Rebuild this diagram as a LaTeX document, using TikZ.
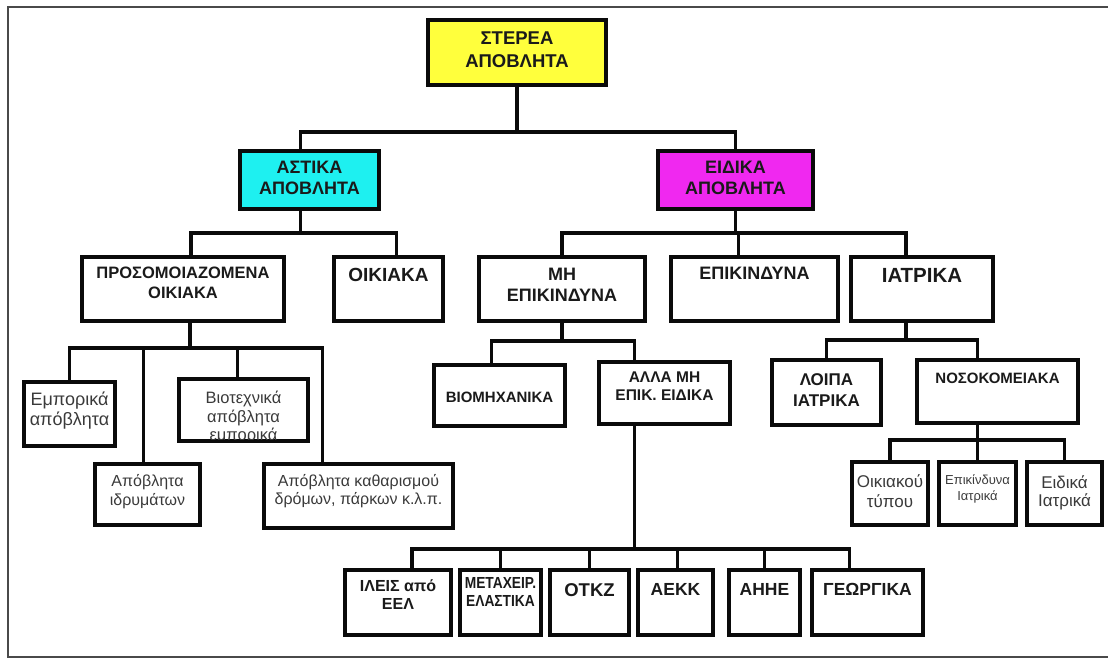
\documentclass[tikz,border=0pt]{standalone}
\usepackage{fontspec}
\setmainfont{Liberation Sans}
\newfontfamily\narrowsans{Liberation Sans}[FakeStretch=0.86]
\usetikzlibrary{positioning}

\definecolor{rootyellow}{HTML}{FFFF3C}
\definecolor{astcyan}{HTML}{1EF0F0}
\definecolor{eidmagenta}{HTML}{F028F0}
\definecolor{boxblack}{HTML}{0A0A0A}
\definecolor{txtblack}{HTML}{1A1A1A}
\definecolor{txtgray}{HTML}{3A3A3A}
\definecolor{framegray}{HTML}{4A4A4A}

\begin{document}
\begin{tikzpicture}[x=1pt, y=-1pt,
  box/.style 2 args={draw=boxblack, line width=4pt, outer sep=0pt, inner sep=0pt,
    minimum width=#1, minimum height=#2},
  conn/.style={draw=boxblack, line width=3.5pt},
  frame/.style={draw=framegray, line width=2pt},
  txt/.style={inner sep=0pt, align=center},
  caps/.style 2 args={txt, text=txtblack, font=\fontsize{#1}{#2}\selectfont\bfseries},
  plain/.style 2 args={txt, text=txtgray, font=\fontsize{#1}{#2}\selectfont}]

  % Page size and the frame round the chart (its right side is cut off)
  \useasboundingbox (0,0) rectangle (1108,659);
  \draw[frame] (1108,7) -- (8,7) -- (8,657) -- (1108,657);

  % Top box and the two main groups
  \node[box={178}{65}, fill=rootyellow] (root) at (517,52.5) {};
  \node[caps={18.5}{23}, below=12pt of root.north] (root-t) {ΣΤΕΡΕΑ\\ΑΠΟΒΛΗΤΑ};
  \node[box={139}{58}, fill=astcyan] (astika) at (309.5,180) {};
  \node[caps={18}{21}, below=10pt of astika.north] (astika-t) {ΑΣΤΙΚΑ\\ΑΠΟΒΛΗΤΑ};
  \node[box={155}{58}, fill=eidmagenta] (eidika) at (735.5,180) {};
  \node[caps={18}{21}, below=10pt of eidika.north] (eidika-t) {ΕΙΔΙΚΑ\\ΑΠΟΒΛΗΤΑ};

  % Third row
  \node[box={202}{64}] (prosom) at (183,289) {};
  \node[caps={16.5}{20}, below=10pt of prosom.north] (prosom-t) {ΠΡΟΣΟΜΟΙΑΖΟΜΕΝΑ\\ΟΙΚΙΑΚΑ};
  \node[box={109}{64}] (oikiaka) at (388.5,289) {};
  \node[caps={19}{22}, below=11pt of oikiaka.north] (oikiaka-t) {ΟΙΚΙΑΚΑ};
  \node[box={166}{64}] (mhepik) at (562,289) {};
  \node[caps={18}{20.5}, below=11pt of mhepik.north] (mhepik-t) {ΜΗ\\ΕΠΙΚΙΝΔΥΝΑ};
  \node[box={167}{64}] (epik) at (754.5,289) {};
  \node[caps={18}{21}, below=10pt of epik.north] (epik-t) {ΕΠΙΚΙΝΔΥΝΑ};
  \node[box={142}{64}] (iatrika) at (922,289) {};
  \node[caps={20.5}{23}, below=11pt of iatrika.north] (iatrika-t) {ΙΑΤΡΙΚΑ};

  % Under the similar-to-household box
  \node[box={91}{64}] (emporika) at (69.5,414) {};
  \node[plain={18}{20}, below=10pt of emporika.north] (emporika-t) {Εμπορικά\\απόβλητα};
  \node[box={105}{61}] (idrym) at (147.5,494.5) {};
  \node[plain={16}{19}, below=10pt of idrym.north] (idrym-t) {Απόβλητα\\ιδρυμάτων};
  \node[box={129}{62}] (biotex) at (243.5,410) {};
  \begin{scope}
    \clip ([shift={(2pt,2pt)}]biotex.south west) rectangle ([shift={(-2pt,-2pt)}]biotex.north east);
    \node[plain={16.5}{18.5}, below=12pt of biotex.north] (biotex-t) {Βιοτεχνικά\\απόβλητα\\εμπορικά};
  \end{scope}
  \node[box={189}{64}] (kathar) at (358.5,496) {};
  \node[plain={16}{18}, below=10pt of kathar.north] (kathar-t) {Απόβλητα καθαρισμού\\δρόμων, πάρκων κ.λ.π.};

  % Under the non-hazardous box
  \node[box={131}{61}] (biomix) at (499.5,395.5) {};
  \node[caps={15}{18}, below=27pt of biomix.north] (biomix-t) {ΒΙΟΜΗΧΑΝΙΚΑ};
  \node[box={131}{62}] (allamh) at (664.5,393) {};
  \node[caps={15.5}{18}, below=10pt of allamh.north] (allamh-t) {ΑΛΛΑ ΜΗ\\ΕΠΙΚ. ΕΙΔΙΚΑ};

  % Bottom row
  \node[box={106}{65}] (ilies) at (398,602.5) {};
  \node[caps={16}{17.5}, below=10pt of ilies.north] (ilies-t) {ΙΛΕΙΣ από\\ΕΕΛ};
  \node[box={81}{65}] (metax) at (500.5,602.5) {};
  \node[caps={16}{18}, font=\fontsize{16}{18}\selectfont\narrowsans\bfseries, below=7pt of metax.north] (metax-t) {ΜΕΤΑΧΕΙΡ.\\ΕΛΑΣΤΙΚΑ};
  \node[box={79}{65}] (otkz) at (589.5,602.5) {};
  \node[caps={18.5}{21}, below=13pt of otkz.north] (otkz-t) {ΟΤΚΖ};
  \node[box={75}{65}] (aekk) at (675.5,602.5) {};
  \node[caps={17.5}{21}, below=13pt of aekk.north] (aekk-t) {ΑΕΚΚ};
  \node[box={71}{65}] (aihe) at (764.5,602.5) {};
  \node[caps={17.5}{21}, below=13pt of aihe.north] (aihe-t) {ΑΗΗΕ};
  \node[box={111}{65}] (georg) at (867.5,602.5) {};
  \node[caps={17.5}{21}, below=13pt of georg.north] (georg-t) {ΓΕΩΡΓΙΚΑ};

  % Under the medical box
  \node[box={109}{65}] (loipa) at (826.5,392.5) {};
  \node[caps={17}{21}, below=13pt of loipa.north] (loipa-t) {ΛΟΙΠΑ\\ΙΑΤΡΙΚΑ};
  \node[box={161}{63}] (noso) at (997.5,391.5) {};
  \node[caps={15}{18}, below=13pt of noso.north] (noso-t) {ΝΟΣΟΚΟΜΕΙΑΚΑ};
  \node[box={76}{63}] (oikiak) at (890,493.5) {};
  \node[plain={17}{20}, below=12pt of oikiak.north] (oikiak-t) {Οικιακού\\τύπου};
  \node[box={77}{63}] (epikiatr) at (977.5,493.5) {};
  \node[plain={13}{16}, below=12pt of epikiatr.north] (epikiatr-t) {Επικίνδυνα\\Ιατρικά};
  \node[box={75}{63}] (eidiatr) at (1064.5,493.5) {};
  \node[plain={17}{18.5}, below=13pt of eidiatr.north] (eidiatr-t) {Ειδικά\\Ιατρικά};

  % Tree lines, top down
  \draw[conn] (root.south) -- ++(0,45);
  \draw[conn] ([xshift=-9pt]astika.north) -- ++(0,-19) -| (eidika.north);

  \draw[conn] ([xshift=-9pt]astika.south) -- ++(0,22);
  \draw[conn] ([xshift=8pt]prosom.north) -- ++(0,-24) -| ([xshift=8pt]oikiaka.north);

  \draw[conn] (eidika.south) -- ++(0,22);
  \draw[conn] (mhepik.north) -- ++(0,-24) -| ([xshift=-16pt]iatrika.north);
  \draw[conn] ([xshift=-16pt]epik.north) -- ++(0,-24);

  \draw[conn] ([xshift=7pt]prosom.south) -- ++(0,27);
  \draw[conn] (emporika.north) -- ++(0,-34) -| ([xshift=-36pt]kathar.north);
  \draw[conn] ([xshift=-4pt]idrym.north) -- ++(0,-116);
  \draw[conn] ([xshift=-6pt]biotex.north) -- ++(0,-31);

  \draw[conn] (mhepik.south) -- ++(0,20);
  \draw[conn] ([xshift=-8pt]biomix.north) -- ++(0,-24) -| ([xshift=-30pt]allamh.north);

  \draw[conn] ([xshift=-30pt]allamh.south) -- ++(0,125);
  \draw[conn] ([xshift=14pt]ilies.north) -- ++(0,-21) -| ([xshift=-18pt]georg.north);
  \draw[conn] (metax.north) -- ++(0,-21);
  \draw[conn] (otkz.north) -- ++(0,-21);
  \draw[conn] ([xshift=2pt]aekk.north) -- ++(0,-21);
  \draw[conn] (aihe.north) -- ++(0,-21);

  \draw[conn] ([xshift=-16pt]iatrika.south) -- ++(0,19);
  \draw[conn] (loipa.north) -- ++(0,-20) -| ([xshift=-20pt]noso.north);
  \draw[conn] ([xshift=-20pt]noso.south) -- ++(0,17);
  \draw[conn] (oikiak.north) -- ++(0,-22) -| (eidiatr.north);
  \draw[conn] (epikiatr.north) -- ++(0,-22);

\end{tikzpicture}
\end{document}
